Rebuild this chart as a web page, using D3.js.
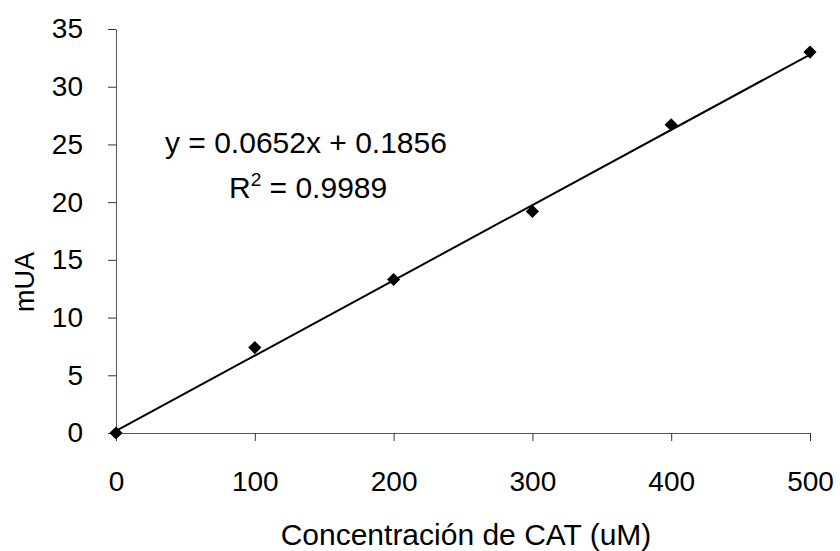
<!DOCTYPE html>
<html>
<head>
<meta charset="utf-8">
<script src="https://cdn.jsdelivr.net/npm/d3@7"></script>
<style>
  html, body { margin: 0; padding: 0; background: #fff; }
  svg { display: block; font-family: "Liberation Sans", Arial, sans-serif; }
</style>
</head>
<body>
<svg id="chart" width="840" height="551"></svg>
<script>
// Calibration data: catechol concentration vs. absorbance
const concentrations = [0, 100, 200, 300, 400, 500];
const absorbance = [0, 7.4, 13.3, 19.2, 26.7, 33.0];
const xTicks = [0, 100, 200, 300, 400, 500];
const yTicks = [0, 5, 10, 15, 20, 25, 30, 35];
const fitSlope = 0.0652;
const fitIntercept = 0.1856;
const fitR2 = 0.9989;

const svg = d3.select("#chart");
const x = d3.scaleLinear().domain([0, 500]).range([116, 810]);
const y = d3.scaleLinear().domain([0, 35]).range([433, 29]);

// Axes
const xAxis = svg.append("g")
  .attr("transform", `translate(0,${y(0)})`)
  .call(d3.axisBottom(x).tickValues(xTicks).tickSize(8).tickSizeOuter(0).tickPadding(30));
const yAxis = svg.append("g")
  .attr("transform", `translate(${x(0)},0)`)
  .call(d3.axisLeft(y).tickValues(yTicks).tickSize(8).tickSizeOuter(0).tickPadding(25));

[xAxis, yAxis].forEach(g => {
  g.select(".domain").attr("stroke", "#555").attr("stroke-width", 1);
  g.selectAll(".tick line").attr("stroke", "#333").attr("stroke-width", 1);
  g.selectAll(".tick text")
    .attr("fill", "#000")
    .style("font-family", '"Liberation Sans", Arial, sans-serif')
    .style("font-size", "28px");
});

// Linear fit line
svg.append("line")
  .attr("x1", x(0)).attr("y1", y(fitIntercept))
  .attr("x2", x(500)).attr("y2", y(fitSlope * 500 + fitIntercept))
  .attr("stroke", "#000").attr("stroke-width", 2);

// Data markers (diamonds)
svg.append("g").selectAll("path")
  .data(concentrations.map((c, i) => [c, absorbance[i]]))
  .join("path")
  .attr("d", d3.symbol().type(d3.symbolDiamond2).size(110))
  .attr("transform", d => `translate(${x(d[0])},${y(d[1])})`)
  .attr("fill", "#000");

// Fit equation
svg.append("text")
  .attr("x", 165).attr("y", 153)
  .style("font-size", "30px")
  .text(`y = ${fitSlope}x + ${fitIntercept}`);
const r2 = svg.append("text")
  .attr("x", 229).attr("y", 198)
  .style("font-size", "30px");
r2.append("tspan").text("R");
r2.append("tspan").attr("dy", -12).style("font-size", "19px").text("2");
r2.append("tspan").attr("dy", 12).text(` = ${fitR2}`);

// Axis titles
svg.append("text")
  .attr("x", 466).attr("y", 545)
  .attr("text-anchor", "middle")
  .style("font-size", "30px")
  .text("Concentración de CAT (uM)");
svg.append("text")
  .attr("transform", `translate(34,282) rotate(-90)`)
  .attr("text-anchor", "middle")
  .style("font-size", "27px")
  .text("mUA");
</script>
</body>
</html>
